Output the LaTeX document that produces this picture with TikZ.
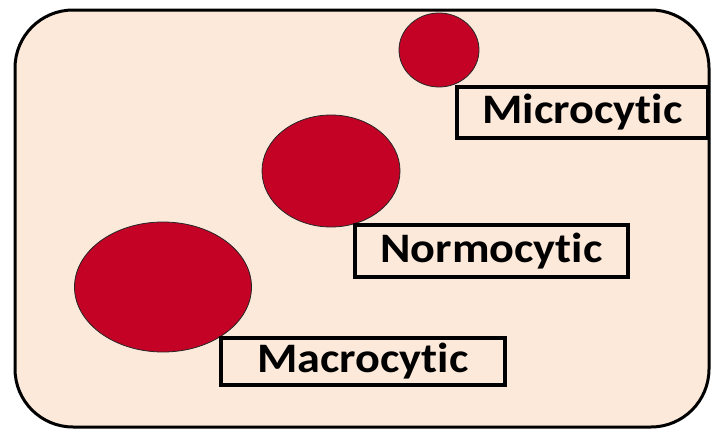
\documentclass[tikz,border=0pt]{standalone}
\usepackage{fontspec}
\setmainfont[FakeStretch=1.1,RawFeature=-liga]{Carlito}
\usetikzlibrary{shapes.geometric}
\definecolor{peach}{RGB}{252,233,218}
\definecolor{cellred}{RGB}{196,2,38}
\begin{document}
\begin{tikzpicture}[x=1pt,y=-1pt,
  cell/.style={ellipse, draw=black!85, line width=0.8pt, fill=cellred, inner sep=0pt},
  label/.style={draw=black, line width=3.2pt, fill=peach, inner sep=0pt, font=\fontsize{42}{44}\selectfont\bfseries},
]
\useasboundingbox (0,0) rectangle (712,431);
\draw[line width=3pt, fill=peach, rounded corners=58pt] (15,10) rectangle (709,427);
\node[cell, minimum width=80pt, minimum height=74pt] (micro) at (439,50) {};
\node[cell, minimum width=138pt, minimum height=112pt] (normo) at (331,171) {};
\node[cell, minimum width=177pt, minimum height=130pt] (macro) at (163,287) {};
\node[label, minimum width=251pt, minimum height=51pt] (microl) at (582.5,112.5) {Microcytic};
\node[label, minimum width=273pt, minimum height=52pt] (normol) at (491.5,251) {Normocytic};
\node[label, minimum width=284pt, minimum height=47pt] (macrol) at (363,361.5) {Macrocytic};
\end{tikzpicture}
\end{document}
